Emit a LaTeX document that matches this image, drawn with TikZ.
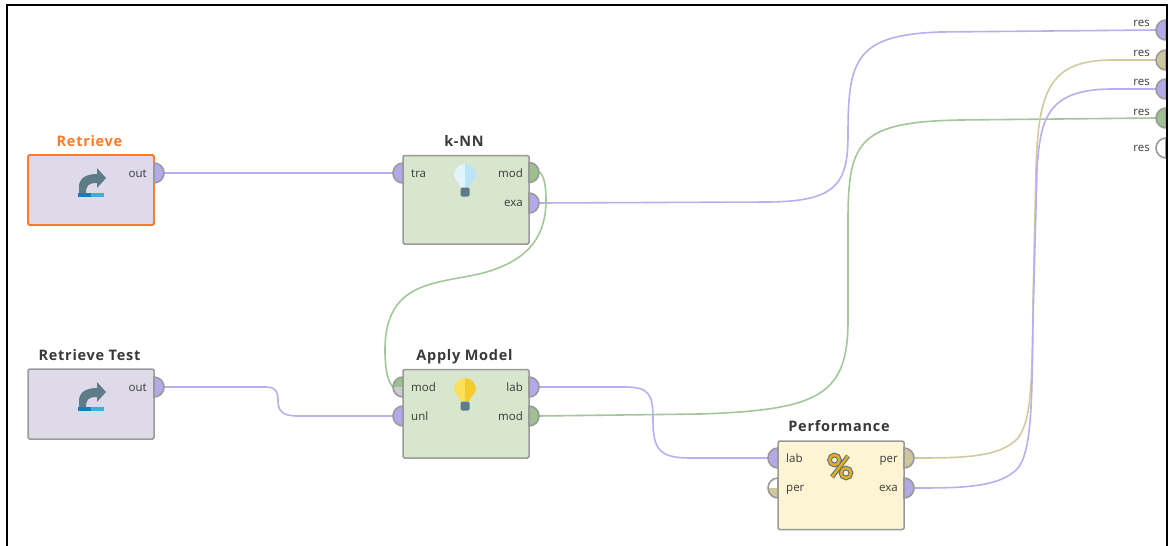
\documentclass[tikz,border=0pt]{standalone}
\usepackage{fontspec}
\setmainfont{Open Sans}
\newfontfamily\titlefont[LetterSpace=5]{Open Sans}
\definecolor{pPurple}{HTML}{B5A8E8}
\definecolor{pKhaki}{HTML}{CFC79B}
\definecolor{pGreen}{HTML}{9CC08E}
\definecolor{lPurple}{HTML}{B9AEEF}
\definecolor{lKhaki}{HTML}{D2CBA0}
\definecolor{lGreen}{HTML}{A3C79A}
\definecolor{edgeGrey}{HTML}{9A9A9A}
\definecolor{txt}{HTML}{3A3A3A}
\definecolor{boxPurple}{HTML}{DEDAEA}
\definecolor{boxGreen}{HTML}{D9E6CE}
\definecolor{boxYellow}{HTML}{FCF4D2}
\definecolor{accent}{HTML}{FF7A2A}
\definecolor{iconSlate}{HTML}{5E7C88}
\definecolor{barDark}{HTML}{0F7FC4}
\definecolor{barLight}{HTML}{3AAEE2}
\definecolor{bulbA}{HTML}{E2F3FB}
\definecolor{bulbB}{HTML}{BCE4F8}
\definecolor{bulbC}{HTML}{F9E15C}
\definecolor{bulbD}{HTML}{F2CB30}
\definecolor{pctOrange}{HTML}{EBAB1E}
\definecolor{pctEdge}{HTML}{557585}
\tikzset{
  opbox/.style={draw=edgeGrey,line width=1.5pt,rounded corners=1.5pt,minimum width=126pt,inner sep=0pt,outer sep=0pt,anchor=north west},
  title/.style={font=\titlefont\bfseries\fontsize{14.5}{14.5}\selectfont,text=txt,inner sep=0pt,anchor=base},
  plabel/.style={font=\fontsize{11.5}{12}\selectfont,text=txt,inner sep=0pt},
  plabelr/.style={plabel,anchor=base east},
  plabell/.style={plabel,anchor=base west},
  wire/.style={line width=1.6pt,line cap=round},
  portedge/.style={draw=edgeGrey,line width=1.6pt}
}
\newcommand{\portL}[4]{\coordinate (#1) at (#2,#3);
  \filldraw[portedge,fill=#4] (#2,#3-10) arc[start angle=-90,end angle=-270,radius=10] -- cycle;}
\newcommand{\portR}[4]{\coordinate (#1) at (#2,#3);
  \filldraw[portedge,fill=#4] (#2,#3-10) arc[start angle=-90,end angle=90,radius=10] -- cycle;}
\newcommand{\portLtwo}[5]{\coordinate (#1) at (#2,#3);
  \fill[#4] (#2,#3) -- (#2,#3-10) arc[start angle=-90,end angle=-180,radius=10] -- cycle;
  \fill[#5] (#2,#3) -- (#2-10,#3) arc[start angle=180,end angle=90,radius=10] -- cycle;
  \draw[portedge] (#2,#3-10) arc[start angle=-90,end angle=-270,radius=10] -- cycle;}
\newcommand{\bulbicon}[4]{\begin{scope}[shift={(#1,#2)}]
  \fill[#3] (0,-11) arc[start angle=-90,end angle=-180,radius=11] .. controls (-11,5) and (-5.5,7) .. (-4.5,12) -- (0,12) -- cycle;
  \fill[#4] (0,-11) arc[start angle=-90,end angle=0,radius=11] .. controls (11,5) and (5.5,7) .. (4.5,12) -- (0,12) -- cycle;
  \fill[iconSlate,rounded corners=1.5pt] (-4.5,12.5) rectangle (4.5,21.5);
  \end{scope}}
\newcommand{\retrieveicon}[2]{\begin{scope}[shift={(#1,#2)}]
  \fill[iconSlate] (1,15) -- (1,9) .. controls (1,1) and (7,-4) .. (19,-4) -- (19,-10) -- (28,0) -- (19,10) -- (19,5) .. controls (11,5) and (8,7) .. (8,15) -- cycle;
  \fill[barDark] (0,15) rectangle (13,19);
  \fill[barLight] (13,15) rectangle (26,19);
  \end{scope}}
\begin{document}
\begin{tikzpicture}[x=1pt,y=-1pt]
\useasboundingbox (0,0) rectangle (1168,546);
\fill[white] (0,0) rectangle (1168,546);

% boxes
\node[opbox,fill=boxPurple,draw=accent,line width=1.9pt,minimum height=70pt] (retrieve) at (28,155) {};
\node[opbox,fill=boxGreen,minimum height=88.5pt] (knn) at (403,155.5) {};
\node[opbox,fill=boxPurple,minimum height=70pt] (rtest) at (28,369) {};
\node[opbox,fill=boxGreen,minimum height=88.5pt] (apply) at (403,369.5) {};
\node[opbox,fill=boxYellow,minimum height=88.5pt] (perf) at (778,441) {};

% titles
\node[title,text=accent] (tRetrieve) at (89.5,146) {Retrieve};
\node[title] (tKnn) at (464,146) {k-NN};
\node[title] (tTest) at (89.5,360) {Retrieve Test};
\node[title] (tApply) at (464.5,360) {Apply Model};
\node[title] (tPerf) at (839,431) {Performance};

% port anchors
\coordinate (rOut) at (164,173);
\coordinate (kTra) at (393,173);
\coordinate (kMod) at (539,172);
\coordinate (kExa) at (539,203);
\coordinate (tOut) at (164,387);
\coordinate (aModIn) at (393,387);
\coordinate (aUnl) at (393,416);
\coordinate (aLab) at (539,387);
\coordinate (aMod) at (539,416);
\coordinate (pLab) at (768,458);
\coordinate (pPer) at (913,458);
\coordinate (pExa) at (913,488);
\coordinate (res1) at (1156,30);
\coordinate (res2) at (1156,60);
\coordinate (res3) at (1156,89);
\coordinate (res4) at (1156,118);

% connectors
\draw[wire,lPurple] (rOut) -- (kTra);
\draw[wire,lPurple] (tOut) -- (266,387) .. controls (276,387) and (278,392) .. (278,400)
   .. controls (278,411) and (282,416) .. (298,416) -- (aUnl);
\draw[wire,lPurple] (kExa) -- (770,202) .. controls (835,201) and (848,185) .. (848,135)
   .. controls (848,60) and (855,35) .. (940,32) -- (res1);
\draw[wire,lGreen] (kMod) .. controls (544,175) and (546,185) .. (546,200)
   .. controls (546,235) and (530,258) .. (490,271)
   .. controls (445,285) and (385,275) .. (385,350)
   .. controls (385,370) and (388,382) .. (aModIn);
\draw[wire,lPurple] (aLab) -- (625,387) .. controls (650,387) and (653,395) .. (653,420)
   .. controls (653,450) and (660,458) .. (690,458) -- (pLab);
\draw[wire,lGreen] (aMod) -- (700,414) .. controls (820,410) and (848,395) .. (848,320)
   -- (848,220) .. controls (848,140) and (860,122) .. (960,120) -- (res4);
\draw[wire,lKhaki] (pPer) .. controls (960,458) and (1000,458) .. (1018,438)
   .. controls (1032,420) and (1032,380) .. (1033,300)
   -- (1036,170) .. controls (1038,90) and (1050,61) .. (1110,60) -- (res2);
\draw[wire,lPurple] (pExa) .. controls (960,488) and (1000,488) .. (1018,468)
   .. controls (1032,450) and (1032,400) .. (1033,320)
   -- (1037,170) .. controls (1040,115) and (1050,90) .. (1110,89) -- (res3);

% ports
\portR{rOutP}{154}{173}{pPurple}
\portL{kTraP}{403}{173}{pPurple}
\portR{kModP}{529}{172.5}{pGreen}
\portR{kExaP}{529}{203}{pPurple}
\portR{tOutP}{154}{387}{pPurple}
\portLtwo{aModP}{403}{387}{pGreen}{black!20}
\portL{aUnlP}{403}{416}{pPurple}
\portR{aLabP}{529}{387}{pPurple}
\portR{aModOutP}{529}{416}{pGreen}
\portL{pLabP}{778}{458}{pPurple}
\portLtwo{pPerInP}{778}{488}{white}{pKhaki}
\portR{pPerP}{904}{458}{pKhaki}
\portR{pExaP}{904}{488}{pPurple}
\portL{res1P}{1166}{30}{pPurple}
\portL{res2P}{1166}{60}{pKhaki}
\portL{res3P}{1166}{89}{pPurple}
\portL{res4P}{1166}{118}{pGreen}
\portL{res5P}{1166}{148}{white}

% port labels
\node[plabelr] (l1) at (147,177) {out};
\node[plabell] (l2) at (411,177) {tra};
\node[plabelr] (l3) at (523,177) {mod};
\node[plabelr] (l4) at (523,206) {exa};
\node[plabelr] (l5) at (147,391) {out};
\node[plabell] (l6) at (411,391) {mod};
\node[plabell] (l7) at (411,420) {unl};
\node[plabelr] (l8) at (523,391) {lab};
\node[plabelr] (l9) at (523,420) {mod};
\node[plabell] (l10) at (786,462) {lab};
\node[plabell] (l11) at (786,491) {per};
\node[plabelr] (l12) at (898,462) {per};
\node[plabelr] (l13) at (898,491) {exa};
\node[plabelr] (l14) at (1150,27) {res};
\node[plabelr] (l15) at (1150,56) {res};
\node[plabelr] (l16) at (1150,85) {res};
\node[plabelr] (l17) at (1150,115) {res};
\node[plabelr] (l18) at (1150,151) {res};

% icons
\retrieveicon{78}{178}
\retrieveicon{78}{392}
\bulbicon{465}{175}{bulbA}{bulbB}
\bulbicon{465}{389}{bulbC}{bulbD}
% percent icon
\draw[pctEdge,line width=4.6pt] (848,456) -- (832,477);
\draw[pctEdge,line width=4.6pt] (834.5,460) circle[radius=5];
\draw[pctEdge,line width=4.6pt] (846,473) circle[radius=5];
\draw[pctOrange,line width=2.4pt] (848,456) -- (832,477);
\draw[pctOrange,line width=2.4pt] (834.5,460) circle[radius=5];
\draw[pctOrange,line width=2.4pt] (846,473) circle[radius=5];

% frame
\draw[black,line width=2pt] (7,546) -- (7,5) -- (1167,5) -- (1167,546);
\end{tikzpicture}
\end{document}
